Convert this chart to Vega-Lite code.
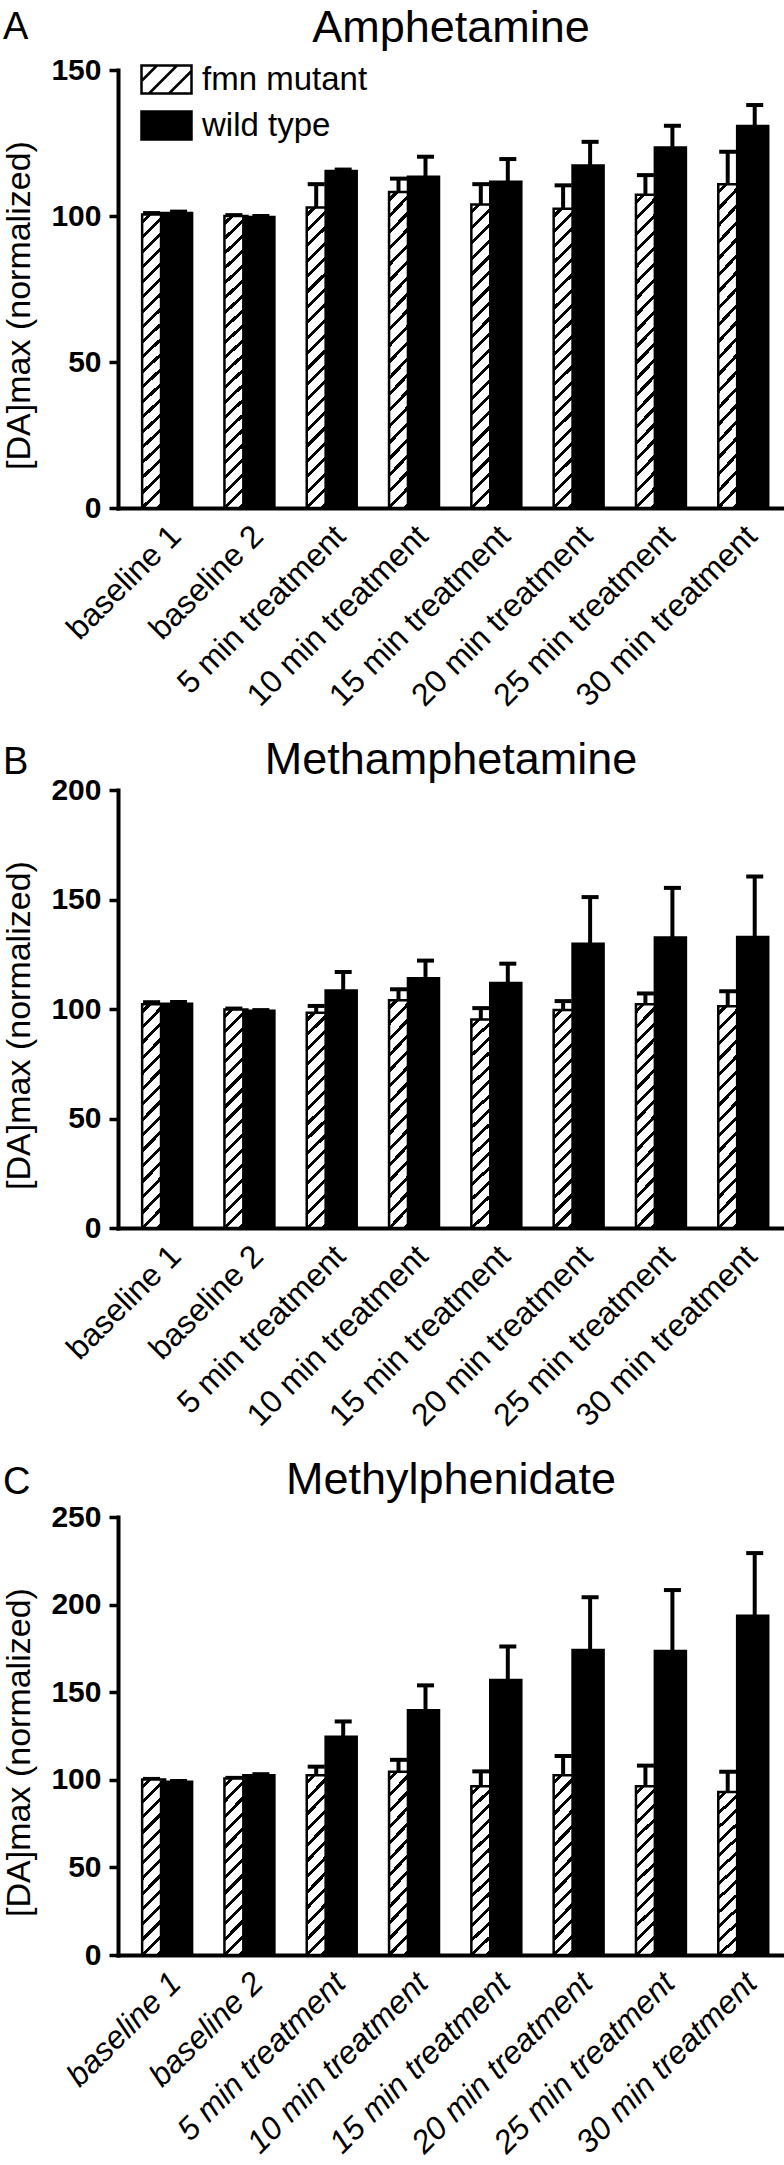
{
  "$schema": "https://vega.github.io/schema/vega-lite/v6.json",
  "description": "[DA]max after amphetamine, methamphetamine and methylphenidate, fmn mutant vs wild type",
  "padding": {"left": 2, "top": 6, "right": 0, "bottom": 0},
  "background": "white",
  "config": {
    "font": "Liberation Sans",
    "view": {"stroke": null},
    "axis": {"grid": false, "domainColor": "black", "domainWidth": 4, "domainCap": "square", "tickColor": "black", "tickWidth": 3.5, "labelColor": "black", "titleColor": "black"},
    "axisY": {"tickSize": 9, "labelFontSize": 30, "labelFontWeight": "bold", "labelPadding": 8, "titleFontSize": 34, "titleFontWeight": "normal", "titlePadding": 14},
    "axisX": {"ticks": false, "labelFontSize": 32, "labelAngle": -45, "labelPadding": 12, "labelLimit": 0, "title": null},
    "title": {"font": "Liberation Sans", "fontWeight": "normal", "color": "black"}
  },
  "datasets": {
    "amph": [
      {"time": "baseline 1", "genotype": "fmn mutant", "mean": 100.5, "upper": 101.0},
      {"time": "baseline 2", "genotype": "fmn mutant", "mean": 100.0, "upper": 100.3},
      {"time": "5 min treatment", "genotype": "fmn mutant", "mean": 102.9, "upper": 110.9},
      {"time": "10 min treatment", "genotype": "fmn mutant", "mean": 108.2, "upper": 112.8},
      {"time": "15 min treatment", "genotype": "fmn mutant", "mean": 103.9, "upper": 110.9},
      {"time": "20 min treatment", "genotype": "fmn mutant", "mean": 102.5, "upper": 110.5},
      {"time": "25 min treatment", "genotype": "fmn mutant", "mean": 107.3, "upper": 114.0},
      {"time": "30 min treatment", "genotype": "fmn mutant", "mean": 110.9, "upper": 122.0},
      {"time": "baseline 1", "genotype": "wild type", "mean": 101.0, "upper": 101.5},
      {"time": "baseline 2", "genotype": "wild type", "mean": 99.7, "upper": 100.0},
      {"time": "5 min treatment", "genotype": "wild type", "mean": 115.4, "upper": 115.9},
      {"time": "10 min treatment", "genotype": "wild type", "mean": 113.4, "upper": 120.3},
      {"time": "15 min treatment", "genotype": "wild type", "mean": 111.7, "upper": 119.5},
      {"time": "20 min treatment", "genotype": "wild type", "mean": 117.3, "upper": 125.4},
      {"time": "25 min treatment", "genotype": "wild type", "mean": 123.5, "upper": 130.9},
      {"time": "30 min treatment", "genotype": "wild type", "mean": 130.8, "upper": 138.0}
    ],
    "meth": [
      {"time": "baseline 1", "genotype": "fmn mutant", "mean": 102.2, "upper": 103.1},
      {"time": "baseline 2", "genotype": "fmn mutant", "mean": 99.8, "upper": 100.2},
      {"time": "5 min treatment", "genotype": "fmn mutant", "mean": 98.3, "upper": 101.4},
      {"time": "10 min treatment", "genotype": "fmn mutant", "mean": 104.0, "upper": 109.0},
      {"time": "15 min treatment", "genotype": "fmn mutant", "mean": 95.2, "upper": 100.4},
      {"time": "20 min treatment", "genotype": "fmn mutant", "mean": 99.5, "upper": 103.6},
      {"time": "25 min treatment", "genotype": "fmn mutant", "mean": 102.2, "upper": 107.1},
      {"time": "30 min treatment", "genotype": "fmn mutant", "mean": 101.3, "upper": 108.1},
      {"time": "baseline 1", "genotype": "wild type", "mean": 102.4, "upper": 103.2},
      {"time": "baseline 2", "genotype": "wild type", "mean": 99.2, "upper": 99.5},
      {"time": "5 min treatment", "genotype": "wild type", "mean": 108.4, "upper": 116.9},
      {"time": "10 min treatment", "genotype": "wild type", "mean": 114.0, "upper": 122.1},
      {"time": "15 min treatment", "genotype": "wild type", "mean": 111.9, "upper": 120.7},
      {"time": "20 min treatment", "genotype": "wild type", "mean": 129.8, "upper": 151.1},
      {"time": "25 min treatment", "genotype": "wild type", "mean": 132.6, "upper": 155.3},
      {"time": "30 min treatment", "genotype": "wild type", "mean": 132.9, "upper": 160.5}
    ],
    "mph": [
      {"time": "baseline 1", "genotype": "fmn mutant", "mean": 100.2, "upper": 100.5},
      {"time": "baseline 2", "genotype": "fmn mutant", "mean": 100.8, "upper": 101.1},
      {"time": "5 min treatment", "genotype": "fmn mutant", "mean": 102.6, "upper": 107.5},
      {"time": "10 min treatment", "genotype": "fmn mutant", "mean": 104.6, "upper": 111.4},
      {"time": "15 min treatment", "genotype": "fmn mutant", "mean": 96.3, "upper": 104.8},
      {"time": "20 min treatment", "genotype": "fmn mutant", "mean": 102.6, "upper": 113.6},
      {"time": "25 min treatment", "genotype": "fmn mutant", "mean": 96.3, "upper": 108.1},
      {"time": "30 min treatment", "genotype": "fmn mutant", "mean": 93.0, "upper": 104.6},
      {"time": "baseline 1", "genotype": "wild type", "mean": 98.9, "upper": 99.3},
      {"time": "baseline 2", "genotype": "wild type", "mean": 102.6, "upper": 103.2},
      {"time": "5 min treatment", "genotype": "wild type", "mean": 124.6, "upper": 133.3},
      {"time": "10 min treatment", "genotype": "wild type", "mean": 139.7, "upper": 153.9},
      {"time": "15 min treatment", "genotype": "wild type", "mean": 157.0, "upper": 176.1},
      {"time": "20 min treatment", "genotype": "wild type", "mean": 174.1, "upper": 204.2},
      {"time": "25 min treatment", "genotype": "wild type", "mean": 173.5, "upper": 208.3},
      {"time": "30 min treatment", "genotype": "wild type", "mean": 193.6, "upper": 229.4}
    ]
  },
  "spacing": 26,
  "resolve": {"scale": {"fill": "independent"}, "legend": {"fill": "independent"}},
  "vconcat": [
    {
      "title": {"text": "A", "fontSize": 38, "anchor": "start", "offset": -41},
      "resolve": {"scale": {"fill": "independent"}, "legend": {"fill": "independent"}},
      "vconcat": [
        {
          "title": {"text": "Amphetamine", "fontSize": 45, "anchor": "middle", "frame": "group", "offset": 2},
          "width": 666,
          "height": 438,
          "data": {"name": "amph"},
          "encoding": {
            "x": {"field": "time", "type": "nominal", "sort": ["baseline 1", "baseline 2", "5 min treatment", "10 min treatment", "15 min treatment", "20 min treatment", "25 min treatment", "30 min treatment"], "scale": {"paddingInner": 0.344, "paddingOuter": 0.218, "align": 0.56}},
            "xOffset": {"field": "genotype", "type": "nominal", "scale": {"domain": ["fmn mutant", "wild type"], "paddingInner": 0, "paddingOuter": 0}},
            "y": {"field": "mean", "type": "quantitative", "title": "[DA]max (normalized)", "scale": {"domain": [0, 150], "nice": false}, "axis": {"values": [0, 50, 100, 150], "titleY": 235}}
          },
          "layer": [
            {"mark": {"type": "rule", "strokeWidth": 4, "color": "black"}, "encoding": {"y2": {"field": "upper"}}},
            {"mark": {"type": "tick", "thickness": 4, "size": 17, "color": "black", "opacity": 1}, "encoding": {"y": {"field": "upper", "type": "quantitative", "title": "[DA]max (normalized)"}}},
            {
              "transform": [{"filter": "datum.genotype === 'fmn mutant'"}],
              "mark": {"type": "bar", "width": {"band": 0.85}, "stroke": "black", "strokeWidth": 2.5,
                "fill": {"gradient": "linear", "x1": 0, "y1": 0, "x2": 0.081, "y2": 1.07, "stops": [
                  {"offset": 0, "color": "#fff"},
                  {"offset": 0.0173, "color": "#fff"}, {"offset": 0.0173, "color": "#000"}, {"offset": 0.0303, "color": "#000"}, {"offset": 0.0303, "color": "#fff"},
                  {"offset": 0.0649, "color": "#fff"}, {"offset": 0.0649, "color": "#000"}, {"offset": 0.0779, "color": "#000"}, {"offset": 0.0779, "color": "#fff"},
                  {"offset": 0.1125, "color": "#fff"}, {"offset": 0.1125, "color": "#000"}, {"offset": 0.1255, "color": "#000"}, {"offset": 0.1255, "color": "#fff"},
                  {"offset": 0.1602, "color": "#fff"}, {"offset": 0.1602, "color": "#000"}, {"offset": 0.1732, "color": "#000"}, {"offset": 0.1732, "color": "#fff"},
                  {"offset": 0.2078, "color": "#fff"}, {"offset": 0.2078, "color": "#000"}, {"offset": 0.2208, "color": "#000"}, {"offset": 0.2208, "color": "#fff"},
                  {"offset": 0.2554, "color": "#fff"}, {"offset": 0.2554, "color": "#000"}, {"offset": 0.2684, "color": "#000"}, {"offset": 0.2684, "color": "#fff"},
                  {"offset": 0.3030, "color": "#fff"}, {"offset": 0.3030, "color": "#000"}, {"offset": 0.3160, "color": "#000"}, {"offset": 0.3160, "color": "#fff"},
                  {"offset": 0.3506, "color": "#fff"}, {"offset": 0.3506, "color": "#000"}, {"offset": 0.3636, "color": "#000"}, {"offset": 0.3636, "color": "#fff"},
                  {"offset": 0.3983, "color": "#fff"}, {"offset": 0.3983, "color": "#000"}, {"offset": 0.4113, "color": "#000"}, {"offset": 0.4113, "color": "#fff"},
                  {"offset": 0.4459, "color": "#fff"}, {"offset": 0.4459, "color": "#000"}, {"offset": 0.4589, "color": "#000"}, {"offset": 0.4589, "color": "#fff"},
                  {"offset": 0.4935, "color": "#fff"}, {"offset": 0.4935, "color": "#000"}, {"offset": 0.5065, "color": "#000"}, {"offset": 0.5065, "color": "#fff"},
                  {"offset": 0.5411, "color": "#fff"}, {"offset": 0.5411, "color": "#000"}, {"offset": 0.5541, "color": "#000"}, {"offset": 0.5541, "color": "#fff"},
                  {"offset": 0.5887, "color": "#fff"}, {"offset": 0.5887, "color": "#000"}, {"offset": 0.6017, "color": "#000"}, {"offset": 0.6017, "color": "#fff"},
                  {"offset": 0.6364, "color": "#fff"}, {"offset": 0.6364, "color": "#000"}, {"offset": 0.6494, "color": "#000"}, {"offset": 0.6494, "color": "#fff"},
                  {"offset": 0.6840, "color": "#fff"}, {"offset": 0.6840, "color": "#000"}, {"offset": 0.6970, "color": "#000"}, {"offset": 0.6970, "color": "#fff"},
                  {"offset": 0.7316, "color": "#fff"}, {"offset": 0.7316, "color": "#000"}, {"offset": 0.7446, "color": "#000"}, {"offset": 0.7446, "color": "#fff"},
                  {"offset": 0.7792, "color": "#fff"}, {"offset": 0.7792, "color": "#000"}, {"offset": 0.7922, "color": "#000"}, {"offset": 0.7922, "color": "#fff"},
                  {"offset": 0.8268, "color": "#fff"}, {"offset": 0.8268, "color": "#000"}, {"offset": 0.8398, "color": "#000"}, {"offset": 0.8398, "color": "#fff"},
                  {"offset": 0.8745, "color": "#fff"}, {"offset": 0.8745, "color": "#000"}, {"offset": 0.8875, "color": "#000"}, {"offset": 0.8875, "color": "#fff"},
                  {"offset": 0.9221, "color": "#fff"}, {"offset": 0.9221, "color": "#000"}, {"offset": 0.9351, "color": "#000"}, {"offset": 0.9351, "color": "#fff"},
                  {"offset": 0.9697, "color": "#fff"}, {"offset": 0.9697, "color": "#000"}, {"offset": 0.9827, "color": "#000"}, {"offset": 0.9827, "color": "#fff"},
                  {"offset": 1, "color": "#fff"}
                ]}
              }
            },
            {
              "transform": [{"filter": "datum.genotype === 'wild type'"}],
              "mark": {"type": "bar", "width": {"band": 1.15}, "stroke": "black", "strokeWidth": 2.5},
              "encoding": {
                "fill": {"field": "genotype", "type": "nominal",
                  "scale": {"domain": ["fmn mutant", "wild type"], "range": ["white", "black"]},
                  "legend": {
                    "orient": "none", "legendX": 22, "legendY": -17, "title": null, "padding": 0,
                    "symbolType": "M-1,-0.56H1V0.56H-1Z M-1,0.06L-0.38,-0.56 M-0.7,0.56L0.42,-0.56 M0.1,0.56L1,-0.34",
                    "symbolSize": 2500, "symbolStrokeColor": "black", "symbolStrokeWidth": 2.5, "symbolOpacity": 1,
                    "labelFont": "Liberation Sans", "labelFontSize": 33, "labelColor": "black", "labelOffset": 9, "labelLimit": 0, "rowPadding": -23
                  }
                }
              }
            }
          ]
        }
      ]
    },
    {
      "title": {"text": "B", "fontSize": 38, "anchor": "start", "offset": -44},
      "resolve": {"scale": {"fill": "independent"}, "legend": {"fill": "independent"}},
      "vconcat": [
        {
          "title": {"text": "Methamphetamine", "fontSize": 45, "anchor": "middle", "frame": "group", "offset": -8},
          "width": 666,
          "height": 438,
          "data": {"name": "meth"},
          "encoding": {
            "x": {"field": "time", "type": "nominal", "sort": ["baseline 1", "baseline 2", "5 min treatment", "10 min treatment", "15 min treatment", "20 min treatment", "25 min treatment", "30 min treatment"], "scale": {"paddingInner": 0.344, "paddingOuter": 0.218, "align": 0.56}},
            "xOffset": {"field": "genotype", "type": "nominal", "scale": {"domain": ["fmn mutant", "wild type"], "paddingInner": 0, "paddingOuter": 0}},
            "y": {"field": "mean", "type": "quantitative", "title": "[DA]max (normalized)", "scale": {"domain": [0, 200], "nice": false}, "axis": {"values": [0, 50, 100, 150, 200], "titleY": 235}}
          },
          "layer": [
            {"mark": {"type": "rule", "strokeWidth": 4, "color": "black"}, "encoding": {"y2": {"field": "upper"}}},
            {"mark": {"type": "tick", "thickness": 4, "size": 17, "color": "black", "opacity": 1}, "encoding": {"y": {"field": "upper", "type": "quantitative", "title": "[DA]max (normalized)"}}},
            {
              "transform": [{"filter": "datum.genotype === 'fmn mutant'"}],
              "mark": {"type": "bar", "width": {"band": 0.85}, "stroke": "black", "strokeWidth": 2.5,
                "fill": {"gradient": "linear", "x1": 0, "y1": 0, "x2": 0.1148, "y2": 1.093, "stops": [
                  {"offset": 0, "color": "#fff"},
                  {"offset": 0.0225, "color": "#fff"}, {"offset": 0.0225, "color": "#000"}, {"offset": 0.04, "color": "#000"}, {"offset": 0.04, "color": "#fff"},
                  {"offset": 0.085, "color": "#fff"}, {"offset": 0.085, "color": "#000"}, {"offset": 0.1025, "color": "#000"}, {"offset": 0.1025, "color": "#fff"},
                  {"offset": 0.1475, "color": "#fff"}, {"offset": 0.1475, "color": "#000"}, {"offset": 0.165, "color": "#000"}, {"offset": 0.165, "color": "#fff"},
                  {"offset": 0.21, "color": "#fff"}, {"offset": 0.21, "color": "#000"}, {"offset": 0.2275, "color": "#000"}, {"offset": 0.2275, "color": "#fff"},
                  {"offset": 0.2725, "color": "#fff"}, {"offset": 0.2725, "color": "#000"}, {"offset": 0.29, "color": "#000"}, {"offset": 0.29, "color": "#fff"},
                  {"offset": 0.335, "color": "#fff"}, {"offset": 0.335, "color": "#000"}, {"offset": 0.3525, "color": "#000"}, {"offset": 0.3525, "color": "#fff"},
                  {"offset": 0.3975, "color": "#fff"}, {"offset": 0.3975, "color": "#000"}, {"offset": 0.415, "color": "#000"}, {"offset": 0.415, "color": "#fff"},
                  {"offset": 0.46, "color": "#fff"}, {"offset": 0.46, "color": "#000"}, {"offset": 0.4775, "color": "#000"}, {"offset": 0.4775, "color": "#fff"},
                  {"offset": 0.5225, "color": "#fff"}, {"offset": 0.5225, "color": "#000"}, {"offset": 0.54, "color": "#000"}, {"offset": 0.54, "color": "#fff"},
                  {"offset": 0.585, "color": "#fff"}, {"offset": 0.585, "color": "#000"}, {"offset": 0.6025, "color": "#000"}, {"offset": 0.6025, "color": "#fff"},
                  {"offset": 0.6475, "color": "#fff"}, {"offset": 0.6475, "color": "#000"}, {"offset": 0.665, "color": "#000"}, {"offset": 0.665, "color": "#fff"},
                  {"offset": 0.71, "color": "#fff"}, {"offset": 0.71, "color": "#000"}, {"offset": 0.7275, "color": "#000"}, {"offset": 0.7275, "color": "#fff"},
                  {"offset": 0.7725, "color": "#fff"}, {"offset": 0.7725, "color": "#000"}, {"offset": 0.79, "color": "#000"}, {"offset": 0.79, "color": "#fff"},
                  {"offset": 0.835, "color": "#fff"}, {"offset": 0.835, "color": "#000"}, {"offset": 0.8525, "color": "#000"}, {"offset": 0.8525, "color": "#fff"},
                  {"offset": 0.8975, "color": "#fff"}, {"offset": 0.8975, "color": "#000"}, {"offset": 0.915, "color": "#000"}, {"offset": 0.915, "color": "#fff"},
                  {"offset": 0.96, "color": "#fff"}, {"offset": 0.96, "color": "#000"}, {"offset": 0.9775, "color": "#000"}, {"offset": 0.9775, "color": "#fff"},
                  {"offset": 1, "color": "#fff"}
                ]}
              }
            },
            {
              "transform": [{"filter": "datum.genotype === 'wild type'"}],
              "mark": {"type": "bar", "width": {"band": 1.15}, "stroke": "black", "strokeWidth": 2.5},
              "encoding": {"fill": {"field": "genotype", "type": "nominal", "scale": {"domain": ["fmn mutant", "wild type"], "range": ["white", "black"]}, "legend": null}}
            }
          ]
        }
      ]
    },
    {
      "title": {"text": "C", "fontSize": 38, "anchor": "start", "offset": -44},
      "resolve": {"scale": {"fill": "independent"}, "legend": {"fill": "independent"}},
      "vconcat": [
        {
          "title": {"text": "Methylphenidate", "fontSize": 45, "anchor": "middle", "frame": "group", "offset": -1},
          "width": 666,
          "height": 438,
          "data": {"name": "mph"},
          "encoding": {
            "x": {"field": "time", "type": "nominal", "sort": ["baseline 1", "baseline 2", "5 min treatment", "10 min treatment", "15 min treatment", "20 min treatment", "25 min treatment", "30 min treatment"], "scale": {"paddingInner": 0.344, "paddingOuter": 0.218, "align": 0.56}, "axis": {"labelFontStyle": "italic"}},
            "xOffset": {"field": "genotype", "type": "nominal", "scale": {"domain": ["fmn mutant", "wild type"], "paddingInner": 0, "paddingOuter": 0}},
            "y": {"field": "mean", "type": "quantitative", "title": "[DA]max (normalized)", "scale": {"domain": [0, 250], "nice": false}, "axis": {"values": [0, 50, 100, 150, 200, 250], "titleY": 235}}
          },
          "layer": [
            {"mark": {"type": "rule", "strokeWidth": 4, "color": "black"}, "encoding": {"y2": {"field": "upper"}}},
            {"mark": {"type": "tick", "thickness": 4, "size": 17, "color": "black", "opacity": 1}, "encoding": {"y": {"field": "upper", "type": "quantitative", "title": "[DA]max (normalized)"}}},
            {
              "transform": [{"filter": "datum.genotype === 'fmn mutant'"}],
              "mark": {"type": "bar", "width": {"band": 0.85}, "stroke": "black", "strokeWidth": 2.5,
                "fill": {"gradient": "linear", "x1": 0, "y1": 0, "x2": 0.1462, "y2": 1.112, "stops": [
                  {"offset": 0, "color": "#fff"},
                  {"offset": 0.0278, "color": "#fff"}, {"offset": 0.0278, "color": "#000"}, {"offset": 0.0492, "color": "#000"}, {"offset": 0.0492, "color": "#fff"},
                  {"offset": 0.1047, "color": "#fff"}, {"offset": 0.1047, "color": "#000"}, {"offset": 0.1261, "color": "#000"}, {"offset": 0.1261, "color": "#fff"},
                  {"offset": 0.1816, "color": "#fff"}, {"offset": 0.1816, "color": "#000"}, {"offset": 0.2030, "color": "#000"}, {"offset": 0.2030, "color": "#fff"},
                  {"offset": 0.2585, "color": "#fff"}, {"offset": 0.2585, "color": "#000"}, {"offset": 0.2799, "color": "#000"}, {"offset": 0.2799, "color": "#fff"},
                  {"offset": 0.3355, "color": "#fff"}, {"offset": 0.3355, "color": "#000"}, {"offset": 0.3569, "color": "#000"}, {"offset": 0.3569, "color": "#fff"},
                  {"offset": 0.4124, "color": "#fff"}, {"offset": 0.4124, "color": "#000"}, {"offset": 0.4338, "color": "#000"}, {"offset": 0.4338, "color": "#fff"},
                  {"offset": 0.4893, "color": "#fff"}, {"offset": 0.4893, "color": "#000"}, {"offset": 0.5107, "color": "#000"}, {"offset": 0.5107, "color": "#fff"},
                  {"offset": 0.5662, "color": "#fff"}, {"offset": 0.5662, "color": "#000"}, {"offset": 0.5876, "color": "#000"}, {"offset": 0.5876, "color": "#fff"},
                  {"offset": 0.6431, "color": "#fff"}, {"offset": 0.6431, "color": "#000"}, {"offset": 0.6645, "color": "#000"}, {"offset": 0.6645, "color": "#fff"},
                  {"offset": 0.7201, "color": "#fff"}, {"offset": 0.7201, "color": "#000"}, {"offset": 0.7415, "color": "#000"}, {"offset": 0.7415, "color": "#fff"},
                  {"offset": 0.7970, "color": "#fff"}, {"offset": 0.7970, "color": "#000"}, {"offset": 0.8184, "color": "#000"}, {"offset": 0.8184, "color": "#fff"},
                  {"offset": 0.8739, "color": "#fff"}, {"offset": 0.8739, "color": "#000"}, {"offset": 0.8953, "color": "#000"}, {"offset": 0.8953, "color": "#fff"},
                  {"offset": 0.9508, "color": "#fff"}, {"offset": 0.9508, "color": "#000"}, {"offset": 0.9722, "color": "#000"}, {"offset": 0.9722, "color": "#fff"},
                  {"offset": 1, "color": "#fff"}
                ]}
              }
            },
            {
              "transform": [{"filter": "datum.genotype === 'wild type'"}],
              "mark": {"type": "bar", "width": {"band": 1.15}, "stroke": "black", "strokeWidth": 2.5},
              "encoding": {"fill": {"field": "genotype", "type": "nominal", "scale": {"domain": ["fmn mutant", "wild type"], "range": ["white", "black"]}, "legend": null}}
            }
          ]
        }
      ]
    }
  ]
}
